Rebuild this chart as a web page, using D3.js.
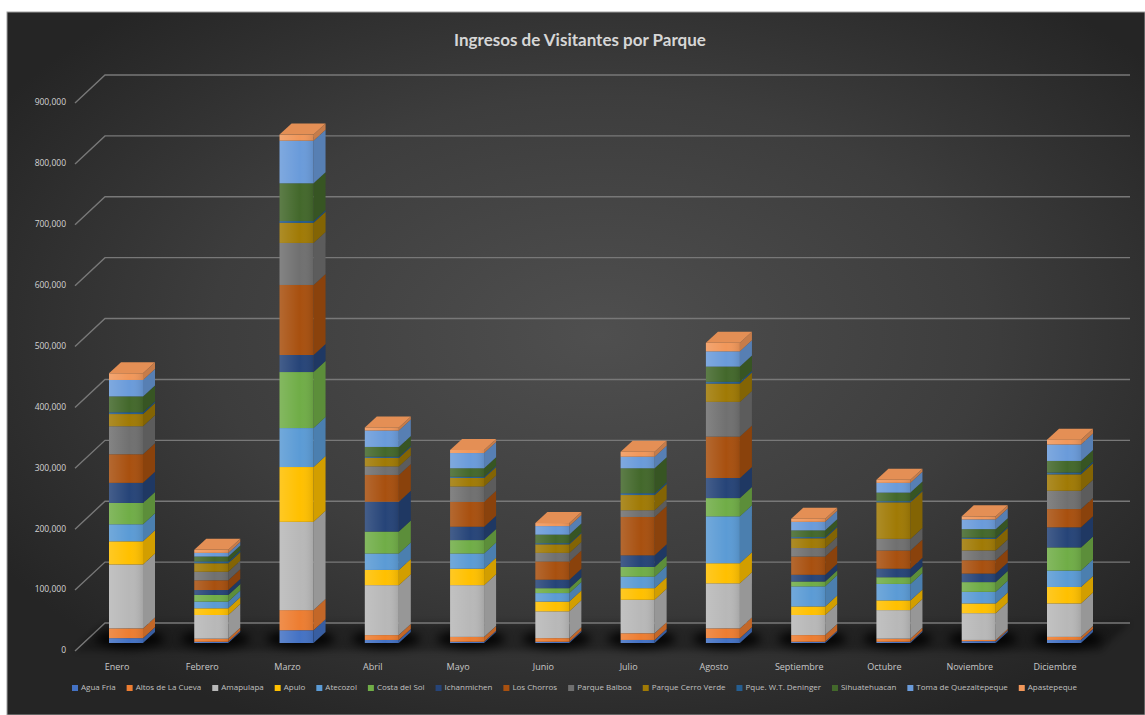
<!DOCTYPE html>
<html><head><meta charset="utf-8">
<script src="https://cdn.jsdelivr.net/npm/d3@7"></script>
<style>body{margin:0;background:#fff;} svg{display:block}</style>
</head><body><svg id="c" width="1145" height="715"></svg>
<script>
const months = ["Enero","Febrero","Marzo","Abril","Mayo","Junio","Julio","Agosto","Septiembre","Octubre","Noviembre","Diciembre"];
const seriesNames = ["Agua Fria","Altos de La Cueva","Amapulapa","Apulo","Atecozol","Costa del Sol","Ichanmichen","Los Chorros","Parque Balboa","Parque Cerro Verde","Pque. W.T. Deninger","Sihuatehuacan","Toma de Quezaltepeque","Apastepeque"];
const seriesColors = ["#4472C4","#ED7D31","#B8B8B8","#FFC000","#5B9BD5","#70AD47","#264478","#A8500F","#707070","#A07A05","#255E91","#43682B","#6A9BDA","#F1975A"];
const aguaFria      = [8000,2000,21000,5000,2000,2000,5000,8000,2000,2000,3000,5000];
const altosCueva    = [16000,5000,33000,8000,8000,6000,11000,16000,11000,5000,2000,5000];
const amapulapa     = [105000,39000,145000,82000,85000,44000,55000,74000,33000,47000,44000,55000];
const apulo         = [38000,11000,90000,25000,27000,16000,19000,33000,14000,16000,16000,27000];
const atecozol      = [28000,11000,64000,27000,25000,14000,19000,77000,33000,27000,19000,27000];
const costaDelSol   = [35000,11000,92000,36000,22000,8000,16000,30000,8000,11000,16000,38000];
const ichanmichen   = [33000,8000,28000,49000,22000,14000,19000,33000,11000,14000,14000,33000];
const losChorros    = [47000,16000,115000,44000,41000,30000,63000,68000,30000,30000,22000,30000];
const parqueBalboa  = [46000,14000,69000,14000,25000,14000,11000,57000,14000,19000,16000,30000];
const cerroVerde    = [20000,14000,33000,14000,14000,14000,25000,30000,16000,60000,19000,27000];
const deninger      = [3000,3000,3000,2000,2000,2000,3000,3000,2000,2000,2000,3000];
const sihuatehuacan = [26000,8000,62000,16000,14000,14000,41000,25000,11000,14000,14000,19000];
const tomaQuezal    = [27000,6000,70000,27000,25000,14000,19000,25000,14000,16000,16000,27000];
const apastepeque   = [11000,5000,10000,5000,5000,5000,8000,14000,5000,5000,5000,8000];
const yTicks = [0,100000,200000,300000,400000,500000,600000,700000,800000,900000];
const title = "Ingresos de Visitantes por Parque";

const allSeries = [aguaFria,altosCueva,amapulapa,apulo,atecozol,costaDelSol,ichanmichen,losChorros,parqueBalboa,cerroVerde,deninger,sihuatehuacan,tomaQuezal,apastepeque];
const table = months.map((m,i)=>{const o={month:m}; seriesNames.forEach((s,j)=>o[s]=allSeries[j][i]); return o;});
const stacked = d3.stack().keys(seriesNames)(table);

const svg = d3.select("#c");
const defs = svg.append("defs");
const rg = defs.append("radialGradient").attr("id","bg").attr("cx","52%").attr("cy","46%").attr("r","62%");
rg.append("stop").attr("offset","0%").attr("stop-color","#4f4f4f");
rg.append("stop").attr("offset","55%").attr("stop-color","#3d3d3d");
rg.append("stop").attr("offset","100%").attr("stop-color","#252525");
const fg = defs.append("linearGradient").attr("id","face").attr("x1","0").attr("x2","1").attr("y1","0").attr("y2","0");
fg.append("stop").attr("offset","0%").attr("stop-color","#fff").attr("stop-opacity",0.14);
fg.append("stop").attr("offset","60%").attr("stop-color","#fff").attr("stop-opacity",0.0);
fg.append("stop").attr("offset","100%").attr("stop-color","#000").attr("stop-opacity",0.1);
const blur = defs.append("filter").attr("id","blur").attr("x","-50%").attr("y","-50%").attr("width","200%").attr("height","200%");
blur.append("feGaussianBlur").attr("stdDeviation",5);
const blur2 = defs.append("filter").attr("id","blur2").attr("x","-10%").attr("y","-50%").attr("width","120%").attr("height","200%");
blur2.append("feGaussianBlur").attr("stdDeviation",3);

svg.append("rect").attr("x",7).attr("y",12).attr("width",1145-7).attr("height",715-12)
  .attr("fill","url(#bg)").attr("stroke","#a0a0a0").attr("stroke-width",1);

const yBack = d3.scaleLinear().domain([0,900000]).range([623,75]);
const depthX = 30, depthY = 28;
const gridRight = 1130;
const wallLeft = 105;

// floor
svg.append("path")
  .attr("d",`M${wallLeft-depthX},${yBack(0)+depthY} L${wallLeft},${yBack(0)} L${gridRight},${yBack(0)} L${gridRight-depthX},${yBack(0)+depthY} Z`)
  .attr("fill","#000").attr("opacity",0.3).attr("filter","url(#blur2)");

// gridlines
const grid = svg.append("g");
yTicks.forEach(t=>{
  const yb = yBack(t);
  grid.append("path").attr("d",`M${wallLeft-depthX},${yb+depthY} L${wallLeft},${yb} L${gridRight},${yb}`)
    .attr("fill","none").attr("stroke","#787878").attr("stroke-width",1.4);
  grid.append("text").attr("x",66).attr("y",yb+depthY).attr("text-anchor","end").attr("dominant-baseline","middle")
    .attr("font-family","Open Sans, Liberation Sans, sans-serif").attr("font-size",8.5).attr("fill","#d4d4d4")
    .text(d3.format(",")(t));
});

const xC = d3.scalePoint().domain(months).range([126,1064]);
const bw = 34, dX = 12, dY = 11, barOff = 20;
const yBar = v => yBack(v) + barOff;

svg.append("g").selectAll("ellipse").data(months).join("ellipse")
  .attr("cx",d=>xC(d)+4).attr("cy",yBar(0)-4).attr("rx",34).attr("ry",9)
  .attr("fill","#000").attr("opacity",0.85).attr("filter","url(#blur)");

const bars = svg.append("g");
months.forEach((m,i)=>{
  const c = xC(m), x0 = c - bw/2, x1 = c + bw/2;
  const g = bars.append("g");
  stacked.forEach((s,j)=>{
    const d = s[i];
    const ya = yBar(d[0]), yb = yBar(d[1]);
    if (yb >= ya) return;
    const col = seriesColors[j];
    g.append("path").attr("d",`M${x1},${ya} L${x1+dX},${ya-dY} L${x1+dX},${yb-dY} L${x1},${yb} Z`)
      .attr("fill",d3.color(col).darker(0.55));
    g.append("rect").attr("x",x0).attr("y",yb).attr("width",bw).attr("height",ya-yb).attr("fill",col);
    g.append("rect").attr("x",x0).attr("y",yb).attr("width",bw).attr("height",ya-yb).attr("fill","url(#face)");
  });
  const top = stacked[stacked.length-1][i][1];
  const yt = yBar(top);
  g.append("path").attr("d",`M${x0},${yt} L${x0+dX},${yt-dY} L${x1+dX},${yt-dY} L${x1},${yt} Z`)
    .attr("fill",d3.color(seriesColors[seriesColors.length-1]).darker(0.15));
});

svg.append("g").selectAll("text").data(months).join("text")
  .attr("x",d=>xC(d)-9).attr("y",668).attr("text-anchor","middle").attr("dominant-baseline","middle")
  .attr("font-family","Open Sans, Liberation Sans, sans-serif").attr("font-size",9).attr("fill","#c8c8c8")
  .text(d=>d);

svg.append("text").attr("x",580).attr("y",42).attr("text-anchor","middle").attr("dominant-baseline","middle")
  .attr("font-family","Lato, Open Sans, sans-serif").attr("font-weight","bold").attr("font-size",17)
  .attr("fill","#d6d6d6").text(title);

const leg = svg.append("g");
const items = seriesNames.map((n,j)=>{
  const gi = leg.append("g");
  gi.append("rect").attr("width",6).attr("height",6).attr("y",-3).attr("fill",seriesColors[j]);
  const t = gi.append("text").attr("x",9).attr("dominant-baseline","middle")
    .attr("font-family","Open Sans, Liberation Sans, sans-serif").attr("font-size",8).attr("fill","#c0c0c0").text(n);
  return {g:gi, w: 9 + t.node().getComputedTextLength()};
});
const legStart = 72, legEnd = 1077;
const totalW = d3.sum(items,d=>d.w);
const gap = (legEnd - legStart - totalW)/(items.length-1);
let cx = legStart;
items.forEach(it=>{ it.g.attr("transform",`translate(${cx},688)`); cx += it.w + gap; });
</script>
</body></html>
